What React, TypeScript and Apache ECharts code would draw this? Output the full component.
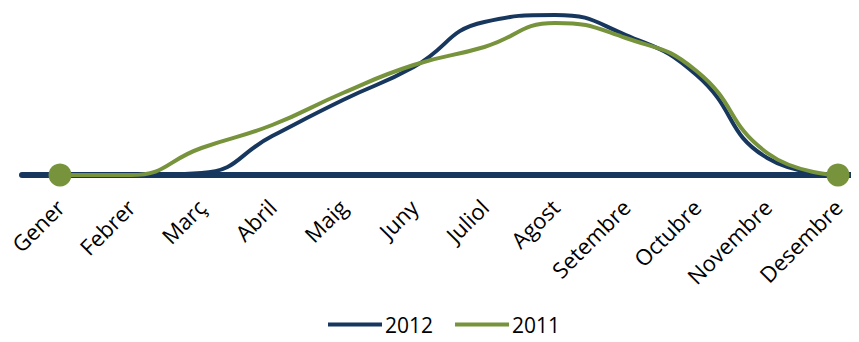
import React, { useEffect, useRef } from "react";
import * as echarts from "echarts";

const months = ["Gener", "Febrer", "Març", "Abril", "Maig", "Juny", "Juliol", "Agost", "Setembre", "Octubre", "Novembre", "Desembre"];
const values2012 = [0, 0, 2, 39, 75, 108, 153, 160, 140, 100, 17, 0];
const values2011 = [0, 0, 27, 50, 82, 110, 128, 152, 137, 104, 22, 0];

const NAVY = "#17375E";
const GREEN = "#77933C";

export default function App() {
  const ref = useRef<HTMLDivElement>(null);
  useEffect(() => {
    if (!ref.current) return;
    const chart = echarts.init(ref.current, null, { renderer: "svg" });
    const endDot = (_v: any, p: any) => (p.dataIndex === 0 || p.dataIndex === months.length - 1 ? 23 : 0);
    chart.setOption({
      animation: false,
      grid: [
        { left: 60, right: 21, top: 0, bottom: 167, containLabel: false },
        { left: 22, right: 0, top: 0, bottom: 167, containLabel: false },
      ],
      legend: {
        left: 328,
        top: 314,
        padding: 0,
        itemWidth: 54,
        itemHeight: 4,
        itemGap: 22,
        icon: "rect",
        textStyle: { fontFamily: "Open Sans", fontSize: 21, color: "#000", padding: [0, 0, 0, -2] },
        data: ["2012", "2011"],
      },
      xAxis: [
        {
          type: "category",
          gridIndex: 0,
          data: months,
          boundaryGap: false,
          axisLine: { show: false },
          axisTick: { show: false },
          axisLabel: {
            rotate: 45,
            margin: 28,
            interval: 0,
            fontFamily: "Open Sans",
            fontSize: 22,
            color: "#000",
          },
        },
        {
          type: "value",
          gridIndex: 1,
          min: 0,
          max: 1,
          axisLine: { show: true, lineStyle: { color: NAVY, width: 6 } },
          axisTick: { show: false },
          axisLabel: { show: false },
          splitLine: { show: false },
        },
      ],
      yAxis: [
        { type: "value", gridIndex: 0, min: 0, max: 175, show: false, splitLine: { show: false } },
        { type: "value", gridIndex: 1, min: 0, max: 175, show: false, splitLine: { show: false } },
      ],
      series: [
        {
          name: "2012",
          type: "line",
          data: values2012,
          smooth: true,
          symbol: "none",
          lineStyle: { color: NAVY, width: 4 },
          itemStyle: { color: NAVY },
        },
        {
          name: "2011",
          type: "line",
          data: values2011,
          smooth: true,
          symbol: "circle",
          symbolSize: endDot,
          showAllSymbol: true,
          lineStyle: { color: GREEN, width: 4 },
          itemStyle: { color: GREEN },
        },
      ],
    });
    return () => chart.dispose();
  }, []);
  return <div ref={ref} style={{ width: 859, height: 342, margin: -8 }} />;
}
